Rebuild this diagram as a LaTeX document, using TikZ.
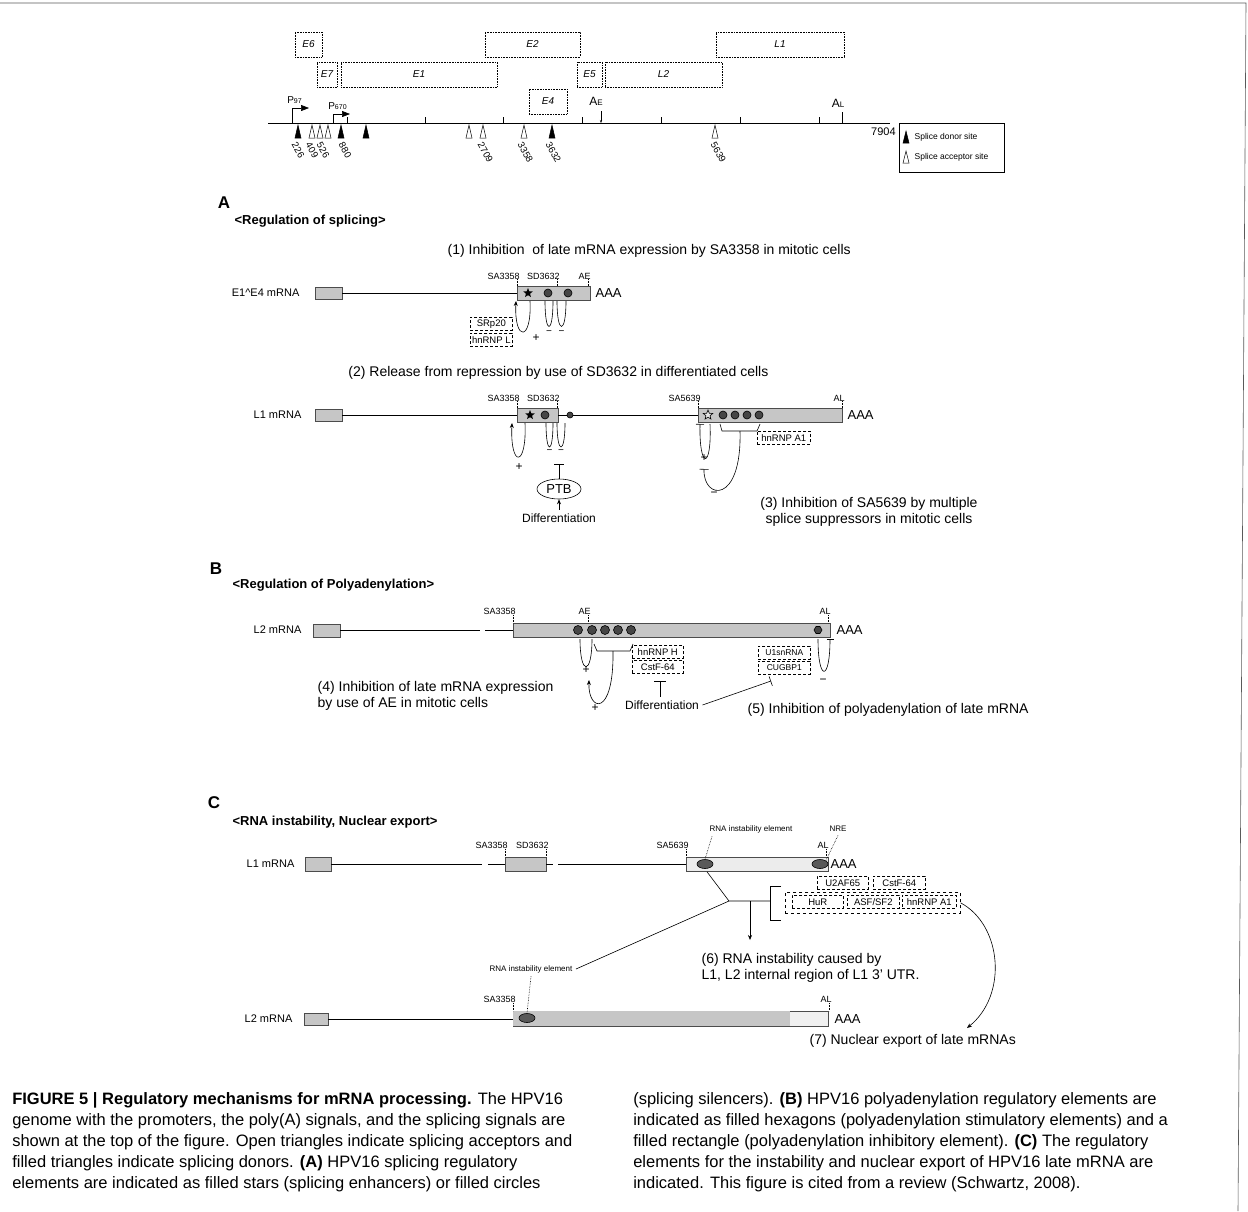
\documentclass[tikz,border=0pt]{standalone}
\usepackage{fontspec}
\setmainfont{Liberation Sans}
\usetikzlibrary{arrows.meta,shapes.geometric,calc,positioning}
\newcommand{\fsz}[1]{\fontsize{#1}{#1}\selectfont}

\begin{document}
\begin{tikzpicture}[x=1pt, y=-1pt, >={Stealth[length=5pt,width=4pt]}, line width=0.6pt,
  gbox/.style={draw, densely dotted, inner sep=0pt, outer sep=0pt, anchor=north west, font=\fsz{10}\itshape},
  exon/.style={draw=gray!60!black, fill=gray!45},
  fbox/.style={draw, densely dashed, inner sep=1pt, minimum height=13pt, anchor=north west, font=\fsz{9.5}},
  site/.style={font=\fsz{9}, inner sep=1pt, anchor=south east},
  dot/.style={circle, draw, fill=gray!55!black, inner sep=0pt, minimum size=8pt},
  stmt/.style={font=\fontsize{14}{16}\selectfont, anchor=west},
  tit/.style={font=\fsz{13}\bfseries, anchor=west},
  sec/.style={font=\fsz{17}\bfseries},
  captxt/.style={font=\fsz{16.5}, anchor=base west, inner sep=0pt}]
\useasboundingbox (0,0) rectangle (1248,1211);
\draw[gray!70!black] (0,3) -- (1246,3) -- (1238,1211);

% genome map
\draw (268,123) -- (890,123);
\node[font=\fsz{11}, anchor=north east, inner sep=1pt] (len) at (897,127) {7904};
\foreach \x in {347,425,503,582,661,740,819} \draw (\x,123) -- (\x,117);
\foreach \nm/\xa/\xb/\ya in {E6/295/322/32, E2/485/580/32, L1/716/844/32, E7/317/337/62,
    E1/341/497/62, E5/577/602/62, L2/605/722/62, E4/529/567/89}
  \node[gbox, minimum width=(\xb-\xa)*1pt, minimum height=25pt] (g\nm) at (\xa,\ya) {\nm};
\foreach \x/\f in {298/black, 312/white, 320/white, 328/white, 341/black, 366/black,
    469/white, 483/white, 524/white, 552/black, 715/white}
  \draw[fill=\f, line width=0.5pt] (\x-3,138) -- (\x,125) -- (\x+3,138) -- cycle;
\foreach \x/\n in {294/226, 308/409, 319/526, 341/880, 480/2709, 520/3358, 548/3632, 713/5639}
  \node[font=\fsz{9.5}, rotate=-60, anchor=west, inner sep=0pt] at (\x,143) {\n};
\draw[-{Triangle[length=8pt,width=6pt]}] (292,123) -- (292,108) -- (309,108);
\node[font=\fsz{10}, anchor=south west, inner sep=0pt] (p97) at (287,104) {P{\fsz{7}97}};
\draw[-{Triangle[length=8pt,width=6pt]}] (333,123) -- (333,114) -- (350,114);
\node[font=\fsz{10}, anchor=south west, inner sep=0pt] (p670) at (328,110) {P{\fsz{7}670}};
\draw[-{Stealth[length=3pt]}] (601,111) -- (601,123);
\node[font=\fsz{12}] (ae) at (596,101) {A{\fsz{8}E}};
\draw (842,112) -- (842,123);
\node[font=\fsz{12}] (al) at (838,103) {A{\fsz{8}L}};
\node[draw, minimum width=105pt, minimum height=49pt, anchor=north west, inner sep=0pt] (leg) at (899,123) {};
\draw[fill=black, line width=0.5pt] (903,143) -- (906,131) -- (909,143) -- cycle;
\draw[line width=0.5pt] (903,163) -- (906,151) -- (909,163) -- cycle;
\node[font=\fsz{8.5}, anchor=west] (don) at (911,137) {Splice donor site};
\node[font=\fsz{8.5}, anchor=west] (acc) at (911,157) {Splice acceptor site};

% A: splicing
\node[sec] (secA) at (224,203) {A};
\node[tit] (titA) at (231,221) {<Regulation of splicing>};
\node[stmt] (s1) at (444,251) {(1) Inhibition\ \ of late mRNA expression by SA3358 in mitotic cells};
\node[font=\fsz{11}, anchor=east] (m1) at (303,293) {E1\textasciicircum E4 mRNA};
\draw[exon] (315,287) rectangle (342,299);
\draw (342,293) -- (517,293);
\draw[exon] (517,286) rectangle (590,300);
\node[star, star points=5, star point ratio=2.3, fill, inner sep=0pt, minimum size=10pt] at (528,293) {};
\foreach \x in {548,568} \node[dot] at (\x,293) {};
\foreach \x/\lbl in {517/SA3358, 557/SD3632, 588/AE} {
  \draw[densely dotted] (\x,279) -- (\x,286);
  \node[site] at (\x+4,281) {\lbl};
}
\node[font=\fsz{13}, anchor=west] (aaa1) at (592,293) {AAA};
\draw[->] (530,301) .. controls (532,342) and (514,342) .. (516,301);
\node[fbox, minimum width=42pt] (srp) at (470,317) {SRp20};
\node[fbox, minimum width=42pt] (hnl) at (470,333) {hnRNP L};
\node[font=\fsz{12}] (pl1) at (536,338) {+};
\foreach \xa/\xb in {545/553, 557/566} {
  \draw (\xa,301) .. controls (\xa,335) and (\xb,335) .. (\xb,301);
  \node[font=\fsz{10}] at ({(\xa+\xb)/2},333) {−};
}

\node[stmt, anchor=east] (s2) at (772,373) {(2) Release from repression by use of SD3632 in differentiated cells};
\node[font=\fsz{11}, anchor=east] (m2) at (305,415) {L1 mRNA};
\draw[exon] (315,409) rectangle (342,421);
\draw (342,415) -- (517,415);
\draw[exon] (517,408) rectangle (558,422);
\node[star, star points=5, star point ratio=2.3, fill, inner sep=0pt, minimum size=10pt] at (530,415) {};
\node[dot] at (545,415) {};
\draw (558,415) -- (698,415);
\node[dot, minimum size=6pt] at (570,415) {};
\draw[exon] (698,408) rectangle (842,422);
\node[star, star points=5, star point ratio=2.3, draw, fill=gray!20, inner sep=0pt, minimum size=10pt] at (708,415) {};
\foreach \x in {723,735,747,759} \node[dot] at (\x,415) {};
\foreach \x/\lbl in {517/SA3358, 557/SD3632, 698/SA5639, 842/AL} {
  \draw[densely dotted] (\x,401) -- (\x,408);
  \node[site] at (\x+4,403) {\lbl};
}
\node[font=\fsz{13}, anchor=west] (aaa2) at (844,415) {AAA};
\draw[->] (525,423) .. controls (527,468) and (510,468) .. (512,423);
\node[font=\fsz{12}] (pl2) at (519,467) {+};
\foreach \xa/\xb in {546/553, 557/565} {
  \draw (\xa,423) .. controls (\xa,455) and (\xb,455) .. (\xb,423);
  \node[font=\fsz{10}] at ({(\xa+\xb)/2},452) {−};
}
\node[ellipse, draw, minimum width=44pt, minimum height=20pt, inner sep=0pt, font=\fsz{13}] (ptb) at (559,489) {PTB};
\node[font=\fsz{12}] (diffA) at (559,518) {Differentiation};
\draw[->] (diffA) -- (ptb);
\draw[-{Bar[width=10pt]}] (ptb.north) -- ++(0,-15);
\draw[{Bar[width=8pt]}-] (700,424) .. controls (699,470) and (712,470) .. (710,424);
\node[font=\fsz{12}] (pl3) at (704,458) {+};
\draw (720,424) -- (722,431) -- (757,431) -- (760,424);
\draw[-{Bar[width=9pt]}] (740,431) .. controls (742,505) and (703,500) .. (704,469);
\node[font=\fsz{12}] (mi3) at (714,494) {−};
\node[fbox, minimum width=53pt] (hnA1) at (757,431) {hnRNP A1};
\node[font=\fontsize{14}{15.5}\selectfont, align=center] (s3) at (869,512) {(3) Inhibition of SA5639 by multiple\\splice suppressors in mitotic cells};

% B: polyadenylation
\node[sec] (secB) at (216,569) {B};
\node[tit] (titB) at (229,585) {<Regulation of Polyadenylation>};
\node[font=\fsz{11}, anchor=east] (m3) at (305,630) {L2 mRNA};
\draw[exon] (313,624) rectangle (340,637);
\draw (340,630) -- (480,630);
\draw (485,630) -- (513,630);
\draw[exon] (513,623) rectangle (830,637);
\foreach \x in {578,592,605,618,631} \node[dot, minimum size=9pt] at (\x,630) {};
\node[regular polygon, regular polygon sides=6, draw, fill=gray!55!black, inner sep=0pt, minimum size=8pt] at (818,630) {};
\foreach \x/\lbl in {513/SA3358, 588/AE, 828/AL} {
  \draw[densely dotted] (\x,615) -- (\x,623);
  \node[site] at (\x+4,616) {\lbl};
}
\node[font=\fsz{13}, anchor=west] (aaa3) at (833,630) {AAA};
\draw (580,639) .. controls (580,676) and (592,676) .. (592,639);
\node[font=\fsz{12}] (pl4) at (586,670) {+};
\draw (594,644) -- (597,651) -- (630,651) -- (633,644);
\draw[->] (613,651) .. controls (614,718) and (588,712) .. (589,680);
\node[font=\fsz{12}] (pl5) at (595,708) {+};
\node[fbox, minimum width=51pt] (hnH) at (632,645) {hnRNP H};
\node[fbox, minimum width=51pt] (cst1) at (632,660) {CstF-64};
\node[font=\fsz{12}] (diffB) at (662,705) {Differentiation};
\draw[-{Bar[width=12pt]}] (diffB.north) ++(-2,0) -- ++(0,-16);
\draw[-{Bar[width=10pt]}] (diffB.east) -- (771,681);
\node[fbox, minimum width=52pt, font=\fsz{8.5}] (u1) at (758,646) {U1snRNA};
\node[fbox, minimum width=52pt, font=\fsz{8.5}] (cug) at (758,661) {CUGBP1};
\draw[-{Bar[width=7pt]}] (818,639) .. controls (818,682) and (830,682) .. (830,639);
\node[font=\fsz{12}] (mi4) at (823,681) {−};
\node[stmt, align=left] (s4) at (314,696) {(4) Inhibition of late mRNA expression\\by use of AE in mitotic cells};
\node[stmt] (s5) at (744,710) {(5) Inhibition of polyadenylation of late mRNA};

% C: instability and export
\node[sec] (secC) at (214,803) {C};
\node[tit] (titC) at (229,822) {<RNA instability, Nuclear export>};
\node[font=\fsz{11}, anchor=east] (m4) at (298,864) {L1 mRNA};
\draw[exon] (305,857) rectangle (331,871);
\draw (331,864) -- (482,864);
\draw (488,864) -- (505,864);
\draw[exon] (505,857) rectangle (546,871);
\draw (546,864) -- (553,864);
\draw (558,864) -- (686,864);
\draw[draw=gray!60!black, fill=gray!15] (686,857) rectangle (828,871);
\node[ellipse, draw, fill=gray!70!black, minimum width=16pt, minimum height=9pt, inner sep=0pt] (rie1) at (705,864) {};
\node[ellipse, draw, fill=gray!70!black, minimum width=16pt, minimum height=9pt, inner sep=0pt] (nre) at (820,864) {};
\foreach \x/\lbl in {505/SA3358, 546/SD3632, 686/SA5639, 826/AL} {
  \draw[densely dotted] (\x,849) -- (\x,857);
  \node[site] at (\x+4,850) {\lbl};
}
\node[font=\fsz{13}, anchor=west] (aaa4) at (827,864) {AAA};
\node[font=\fsz{8}] (riel1) at (751,829) {RNA instability element};
\draw[densely dotted] ($(riel1.south west)+(6,0)$) -- (rie1.north);
\node[font=\fsz{8}] (nrel) at (838,829) {NRE};
\draw[densely dotted] (nrel.south) -- (nre.north east);
\node[fbox, minimum width=51pt] (u2af) at (817,876) {U2AF65};
\node[fbox, minimum width=52pt] (cst2) at (873,876) {CstF-64};
\node[draw, dashed, minimum width=175pt, minimum height=21pt, anchor=north west, inner sep=0pt] (grp) at (785,892) {};
\node[fbox, minimum width=51pt] (hur) at (792,895) {HuR};
\node[fbox, minimum width=52pt] (asf) at (847,895) {ASF/SF2};
\node[fbox, minimum width=54pt] (hnA2) at (902,895) {hnRNP A1};
\draw (781,886) -- (770,886) -- (770,920) -- (781,920);
\coordinate (jn) at (729,901);
\coordinate (kn) at (750,901);
\node[font=\fsz{8}] (riel2) at (531,969) {RNA instability element};
\draw (rie1.south) ++(2,3) -- (jn) -- (kn) -- (770,901);
\draw (riel2.east) -- (jn);
\draw[->] (kn) -- (750,940);
\node[stmt, anchor=north west, align=left] (s6) at (698,950) {(6) RNA instability caused by\\L1, L2 internal region of L1 3' UTR.};
\node[font=\fsz{11}, anchor=east] (m5) at (296,1019) {L2 mRNA};
\draw[exon] (304,1013) rectangle (328,1025);
\draw (328,1019) -- (513,1019);
\draw[draw=gray!60!black, fill=gray!12] (513,1011) rectangle (828,1026);
\fill[gray!45] (513.3,1011.3) rectangle (790,1025.7);
\node[ellipse, draw, fill=gray!70!black, minimum width=16pt, minimum height=9pt, inner sep=0pt] (rie2) at (527,1018) {};
\draw[densely dotted] (riel2.south) -- (rie2.north);
\foreach \x/\lbl in {513/SA3358, 829/AL} {
  \draw[densely dotted] (\x,1003) -- (\x,1011);
  \node[site] at (\x+4,1004) {\lbl};
}
\node[font=\fsz{13}, anchor=west] (aaa5) at (831,1019) {AAA};
\draw[->] (grp.east) .. controls (1002,925) and (1008,995) .. (967,1028);
\node[stmt] (s7) at (806,1041) {(7) Nuclear export of late mRNAs};

% caption
\foreach \t [count=\i] in {
    {\textbf{FIGURE 5 | Regulatory mechanisms for mRNA processing.} The HPV16},
    {genome with the promoters, the poly(A) signals, and the splicing signals are},
    {shown at the top of the figure. Open triangles indicate splicing acceptors and},
    {filled triangles indicate splicing donors. \textbf{(A)} HPV16 splicing regulatory},
    {elements are indicated as filled stars (splicing enhancers) or filled circles}}
  \node[captxt] at (12,{1104+21*(\i-1)}) {\t};
\foreach \t [count=\i] in {
    {(splicing silencers). \textbf{(B)} HPV16 polyadenylation regulatory elements are},
    {indicated as filled hexagons (polyadenylation stimulatory elements) and a},
    {filled rectangle (polyadenylation inhibitory element). \textbf{(C)} The regulatory},
    {elements for the instability and nuclear export of HPV16 late mRNA are},
    {indicated. This figure is cited from a review (Schwartz, 2008).}}
  \node[captxt] at (633,{1104+21*(\i-1)}) {\t};
\end{tikzpicture}
\end{document}
